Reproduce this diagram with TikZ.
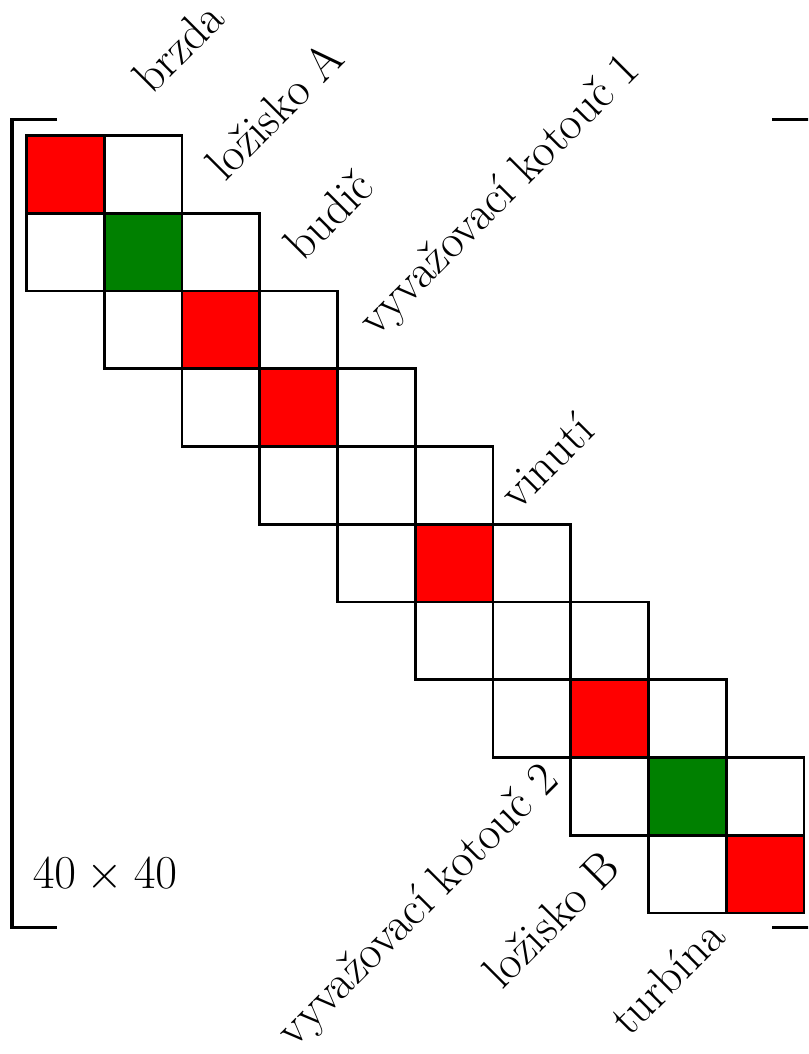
\documentclass[tikz,border=0pt]{standalone}
\usepackage{tikz}
\definecolor{blockred}{RGB}{255,0,0}
\definecolor{blockgreen}{RGB}{0,128,0}
\begin{document}
% coordinates are given in units of 1/77.75 cm (one matrix cell = 77.75 units = 1 cm), y pointing down
\begin{tikzpicture}[x=0.0128617cm, y=-0.0128617cm,
  cellbox/.style={draw=black, line width=1pt},
  bracketline/.style={draw=black, line width=1.1pt},
  lbl/.style={font=\fontsize{17.28}{20}\selectfont, inner sep=0pt, rotate=45},
  toplbl/.style={lbl, anchor=base west},
  botlbl/.style={lbl, anchor=base east}]
\clip (0,0) rectangle (808,1054);
\def\cx{26.5}\def\cy{135.5}\def\cs{77.75}
% tridiagonal band of cells: row r holds columns r-1, r, r+1
\foreach \r in {0,...,9}{
  \foreach \c in {-1,0,1}{
    \pgfmathtruncatemacro{\col}{\r+\c}
    \ifnum\col>-1 \ifnum\col<10
      \ifnum\c=0
        \pgfmathsetmacro{\fc}{(\r==1 || \r==8) ? 1 : ((\r==4 || \r==6) ? 2 : 0)}
        \ifdim\fc pt=1pt
          \path[cellbox, fill=blockgreen] (\cx+\col*\cs, \cy+\r*\cs) rectangle ++(\cs,\cs);
        \else\ifdim\fc pt=2pt
          \path[cellbox, fill=white] (\cx+\col*\cs, \cy+\r*\cs) rectangle ++(\cs,\cs);
        \else
          \path[cellbox, fill=blockred] (\cx+\col*\cs, \cy+\r*\cs) rectangle ++(\cs,\cs);
        \fi\fi
      \else
        \path[cellbox, fill=white] (\cx+\col*\cs, \cy+\r*\cs) rectangle ++(\cs,\cs);
      \fi
    \fi\fi
  }
}
% matrix brackets
\draw[bracketline] (57,120) -- (12,120) -- (12,927.5) -- (57,927.5);
\draw[bracketline] (772,120) -- (817,120) -- (817,927.5) -- (772,927.5);
% size annotation
\node[font=\fontsize{16.5}{19}\selectfont, anchor=base, inner sep=0pt] (size) at (105,888) {$40 \times 40$};
% component labels above the band
\node[toplbl] (brzda) at (152,96) {brzda};
\node[toplbl] (lozA) at (225,183) {ložisko A};
\node[toplbl] (budic) at (303,263) {budič};
\node[toplbl] (kot1) at (376,338) {vyvažovací kotouč 1};
\node[toplbl] (vinuti) at (518,512) {vinutí};
% component labels below the band
\node[botlbl] (kot2) at (561,782) {vyvažovací kotouč 2};
\node[botlbl] (lozB) at (623,870) {ložisko B};
\node[botlbl] (turbina) at (728,939) {turbína};
\end{tikzpicture}
\end{document}
